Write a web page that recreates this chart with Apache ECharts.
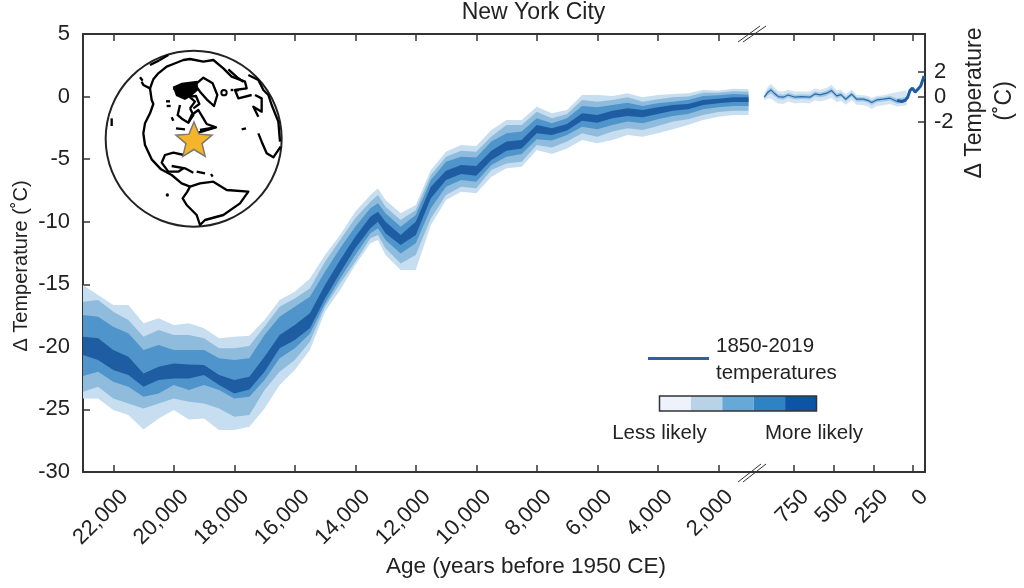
<!DOCTYPE html>
<html>
<head>
<meta charset="utf-8">
<style>html,body{margin:0;padding:0;background:#fff}#c{width:1024px;height:588px}</style>
<script src="https://cdn.jsdelivr.net/npm/echarts@6/dist/echarts.min.js"></script>
</head>
<body>
<div id="c"></div>
<script>
// ---------- DATA ----------
const ages = [23000,22500,22000,21500,21000,20500,20000,19500,19000,18500,18000,17500,17000,16500,16000,15500,15000,14500,14000,13500,13250,13000,12500,12000,11500,11000,10500,10000,9500,9000,8500,8000,7500,7000,6500,6000,5500,5000,4500,4000,3500,3000,2500,2000,1500,1000];
const outerHigh = [-15.06,-15.86,-16.66,-16.66,-18.12,-17.72,-18.26,-18.12,-18.52,-19.32,-19.19,-19.11,-17.86,-16.26,-15.59,-14.53,-12.66,-11.07,-9.20,-7.87,-7.34,-8.27,-9.33,-8.67,-5.87,-4.40,-3.87,-3.95,-2.67,-1.87,-1.87,-0.81,-1.34,-1.07,0.13,0.13,0.05,0.26,-0.06,0.13,0.21,0.26,0.53,0.47,0.63,0.58];
const wideHigh  = [-16.39,-16.26,-17.19,-17.86,-19.19,-18.66,-19.06,-19.06,-19.32,-20.12,-20.12,-19.94,-18.39,-16.79,-16.13,-15.33,-13.20,-11.47,-9.73,-8.40,-7.87,-8.80,-9.87,-9.07,-6.27,-4.80,-4.32,-4.40,-3.20,-2.27,-2.27,-1.21,-1.74,-1.39,-0.27,-0.41,-0.27,-0.06,-0.41,-0.22,-0.06,0.00,0.31,0.31,0.42,0.39];
const innerHigh = [-17.46,-17.59,-18.39,-18.92,-20.26,-19.86,-20.26,-20.26,-20.26,-20.92,-21.05,-20.92,-19.06,-17.59,-16.79,-15.99,-14.00,-12.13,-10.40,-8.93,-8.53,-9.33,-10.40,-9.47,-6.67,-5.20,-4.80,-4.86,-3.60,-2.94,-2.80,-1.74,-2.14,-1.74,-0.75,-0.86,-0.67,-0.49,-0.75,-0.54,-0.41,-0.27,0.05,0.10,0.21,0.15];
const coreHigh  = [-19.19,-19.32,-20.26,-20.79,-22.12,-21.59,-21.32,-21.40,-21.45,-22.25,-22.65,-22.39,-20.79,-19.06,-18.26,-17.32,-15.06,-13.06,-11.20,-9.60,-9.20,-10.00,-11.07,-10.00,-7.20,-5.92,-5.47,-5.55,-4.32,-3.60,-3.47,-2.27,-2.54,-2.19,-1.34,-1.47,-1.13,-0.94,-1.07,-0.86,-0.67,-0.59,-0.27,-0.17,-0.06,-0.06];
const coreLow   = [-20.65,-21.05,-21.85,-22.25,-23.19,-22.65,-22.52,-22.52,-22.25,-23.05,-23.72,-23.40,-21.99,-20.12,-19.46,-18.52,-16.13,-14.08,-12.13,-10.53,-10.00,-10.93,-11.87,-11.07,-8.13,-6.67,-6.19,-6.32,-5.07,-4.32,-4.14,-2.94,-3.07,-2.72,-1.93,-2.09,-1.74,-1.55,-1.66,-1.39,-1.13,-1.02,-0.67,-0.54,-0.43,-0.43];
const innerLow  = [-22.33,-21.99,-22.79,-23.19,-23.99,-23.72,-23.05,-23.45,-23.05,-23.45,-24.12,-23.99,-22.65,-20.92,-20.12,-18.95,-16.53,-14.53,-12.66,-10.93,-10.53,-11.47,-12.53,-11.73,-8.93,-7.20,-6.67,-6.80,-5.47,-4.80,-4.59,-3.42,-3.52,-3.07,-2.41,-2.62,-2.27,-2.00,-2.14,-1.82,-1.55,-1.39,-1.02,-0.86,-0.75,-0.75];
const wideLow   = [-23.59,-23.19,-24.12,-24.52,-24.92,-24.52,-24.12,-24.39,-24.52,-24.92,-25.58,-25.45,-23.45,-21.99,-21.05,-19.59,-16.80,-14.93,-13.20,-11.33,-11.07,-12.13,-13.33,-12.66,-9.73,-7.87,-7.20,-7.33,-5.87,-5.34,-5.20,-3.87,-4.06,-3.60,-2.94,-3.21,-2.80,-2.54,-2.67,-2.35,-2.00,-1.82,-1.47,-1.23,-1.13,-1.13];
const outerLow  = [-24.12,-24.12,-25.05,-25.45,-26.60,-25.72,-25.05,-25.80,-25.72,-26.65,-26.65,-26.38,-24.92,-23.05,-21.85,-20.25,-17.19,-15.46,-13.46,-11.73,-11.46,-12.66,-13.86,-13.86,-10.27,-8.27,-7.60,-7.73,-6.40,-5.73,-5.60,-4.27,-4.59,-4.14,-3.47,-3.74,-3.47,-3.07,-3.21,-2.94,-2.62,-2.27,-1.87,-1.61,-1.47,-1.47];

const recentAges   = [937,916,895,874,849,817,786,744,702,649,618,586,544,513,481,454,424,387,355,313,282,261,229,187,145,103,71,40];
const recentMedian = [-0.05,0.32,0.53,0.27,0,-0.05,0.13,-0.05,0,-0.05,0.21,0.13,0.27,0.48,0.05,0.16,-0.21,0.19,-0.21,-0.21,-0.32,-0.48,-0.27,-0.21,-0.13,-0.37,-0.32,-0.21];
const recentOuterHigh = [0.2,0.75,1.0,0.75,0.45,0.4,0.55,0.4,0.4,0.4,0.65,0.55,0.7,0.95,0.5,0.55,0.2,0.55,0.15,0.1,0.05,-0.1,0.05,0.1,0.25,0.35,0.45,0.5];
const recentOuterLow  = [-0.3,-0.15,-0.15,-0.35,-0.55,-0.6,-0.4,-0.55,-0.5,-0.55,-0.3,-0.4,-0.25,-0.1,-0.45,-0.35,-0.65,-0.3,-0.65,-0.7,-0.8,-1.0,-0.75,-0.7,-0.6,-0.8,-0.75,-0.7];
const recentInnerHigh = [0.08,0.5,0.75,0.48,0.2,0.14,0.31,0.14,0.18,0.14,0.4,0.31,0.46,0.68,0.25,0.34,-0.02,0.37,-0.03,-0.05,-0.14,-0.3,-0.1,-0.04,0.05,-0.15,-0.1,-0.02];
const recentInnerLow  = [-0.18,0.1,0.25,0.05,-0.2,-0.25,-0.07,-0.24,-0.2,-0.24,0.02,-0.08,0.07,0.26,-0.15,-0.03,-0.4,0,-0.4,-0.4,-0.5,-0.68,-0.46,-0.4,-0.32,-0.58,-0.53,-0.4];

const instrumentalAges   = [100,71,50,34,19,4,-13,-23,-48,-69];
const instrumentalValues = [-0.32,-0.40,-0.30,-0.05,0.50,0.67,0.35,0.30,0.85,1.65];

const leftXTicks  = [22000,20000,18000,16000,14000,12000,10000,8000,6000,4000,2000];
const rightXTicks = [750,500,250,0];
const rightYTicks = [2,0,-2];
const likelihoodColors = ['#eef2fb','#b8d2e6','#66a9d7','#2e83c5','#0c55a6'];

const C_OUTER='#c6deef', C_WIDE='#8fbcdc', C_INNER='#4f94ca', C_CORE='#1f5da2';
const AX='#333', TXT='#222', FONT='"Liberation Sans", Arial, sans-serif';

// Polygon band through the axis scales.
function band(xs, lo, hi, color, xIdx, yIdx){
  const rows = xs.map((x,i)=>[x,lo[i],hi[i]]);
  return {
    type:'custom', xAxisIndex:xIdx, yAxisIndex:yIdx, data:rows, clip:false, silent:true,
    encode:{x:0,y:[1,2]}, z:2,
    renderItem(params, api){
      if(params.dataIndex!==0) return null;
      const up = rows.map(r=>api.coord([r[0],r[2]]));
      const dn = rows.map(r=>api.coord([r[0],r[1]])).reverse();
      return {type:'polygon', shape:{points:up.concat(dn)}, style:{fill:color}};
    }
  };
}

// ---------- Inset globe outlines, in a local 3x space ----------
const coast = [
 [[155,125],[160,135],[180,145],[185,180],[190,192],[180,220],[165,250],[160,280],[165,315],[185,358],[213,388],[245,405],[275,430],[300,440]],
 [[180,145],[190,118],[205,100],[230,80],[250,72],[280,60],[300,57],[340,65],[370,60],[400,85],[425,110],[465,125],[470,145],[435,150],[445,175],[485,165]],
 [[180,75],[200,65],[235,45]],
 [[150,112],[158,122]],
 [[320,130],[340,113],[368,130],[382,165],[372,198],[350,178],[330,155],[315,135],[320,130]],
 [[270,195],[263,225],[278,238],[295,248],[310,225],[300,205]],
 [[300,205],[315,185],[298,170],[318,168],[328,192],[310,205]],
 [[295,248],[305,225],[325,210],[340,235],[350,252],[378,262],[345,272],[325,278],[295,320],[282,345]],
 [[282,345],[250,338],[225,345],[215,368],[235,395],[265,395],[280,385]],
 [[245,378],[285,385],[310,398]],[[320,395],[345,400]],[[363,402],[368,410]],
 [[300,440],[330,430],[370,425],[410,450],[475,455],[450,490],[400,525],[345,540],[330,555],[320,525],[290,495],[278,475],[292,455],[300,440]],
 [[475,105],[505,120],[520,150],[535,165],[545,195],[565,245],[570,305]],
 [[495,165],[515,175],[515,215],[490,200],[505,230]],
 [[415,88],[445,115],[460,125]],
 [[505,280],[515,305],[530,340],[550,352],[572,320]],
 [[65,235],[65,258]],[[455,268],[468,265]],[[422,150],[430,150]],[[438,152],[446,150]],
 [[258,265],[285,268]],[[330,270],[375,262]],[[245,232],[250,242]],[[228,184],[240,184]],[[230,198],[242,198]],[[250,145],[258,150]]
];
const arcticMass = [[248,140],[275,128],[322,122],[325,150],[305,168],[285,180],[258,168]];

const globe = {
  type:'group', x:90, y:40, scaleX:1/3, scaleY:1/3, z:10,
  children:[
    {type:'circle', shape:{cx:311,cy:296,r:264}, style:{fill:'#fff',stroke:'#222',lineWidth:6}},
    {type:'polygon', shape:{points:arcticMass}, style:{fill:'#000'}},
    {type:'circle', shape:{cx:402,cy:158,r:8}, style:{fill:'#fff',stroke:'#000',lineWidth:6}},
    {type:'circle', shape:{cx:232,cy:465,r:5}, style:{fill:'#000'}},
    ...coast.map(p=>({type:'polyline', shape:{points:p}, style:{fill:null,stroke:'#000',lineWidth:7,lineJoin:'round'}}))
  ]
};
const starPts = [];
for(let i=0;i<10;i++){
  const r = i%2? 8.5:19, a = -Math.PI/2 + i*Math.PI/5;
  starPts.push([194+r*Math.cos(a), 141+r*Math.sin(a)]);
}
const txt = (x,y,s,o={}) => ({type:'text', x, y, z:11, rotation:o.rotation||0,
  style:{text:s, font:(o.size||20)+'px '+FONT, fill:TXT, align:o.align||'center', verticalAlign:'middle'}});
const slash = (x1,y1,x2,y2)=>({type:'line', z:12, shape:{x1,y1,x2,y2}, style:{stroke:AX,lineWidth:1}});

const cellW = 157/5;
const legendCells = likelihoodColors.map((c,i)=>({type:'rect', z:11,
  shape:{x:659.5+i*cellW,y:396,width:cellW,height:15}, style:{fill:c}}));

const graphics = [
  globe,
  {type:'polygon', z:12, shape:{points:starPts}, style:{fill:'#f5b52a',stroke:'#7a7a72',lineWidth:1.5,lineJoin:'miter'}},
  txt(533.5,13,'New York City',{size:23}),
  txt(526,567,'Age (years before 1950 CE)',{size:22.5}),
  txt(21,266,'Δ Temperature (˚C)',{size:20,rotation:Math.PI/2}),
  txt(975,103,'Δ Temperature',{size:23,rotation:Math.PI/2}),
  txt(1005,101,'(˚C)',{size:23,rotation:Math.PI/2}),
  {type:'line', z:11, shape:{x1:648,y1:358.5,x2:709,y2:358.5}, style:{stroke:'#2a62a4',lineWidth:3}},
  txt(716,346,'1850-2019',{size:20.5,align:'left'}),
  txt(716,373,'temperatures',{size:20.5,align:'left'}),
  ...legendCells,
  {type:'rect', z:12, shape:{x:659.5,y:396,width:157,height:15}, style:{fill:null,stroke:'#333',lineWidth:1.5}},
  txt(659.5,433,'Less likely',{size:20.5}),
  txt(814,433,'More likely',{size:20.5}),
  slash(738,42,760,26), slash(743,42,766,26),
  slash(738,482,761,464), slash(743,482,766,464)
];

const axisLine = {show:true,onZero:false,lineStyle:{color:AX,width:2}};
const tick = vals => ({show:true,inside:true,length:7,customValues:vals,lineStyle:{color:AX,width:1.5}});
const noLabel = {show:false};
const xLabel = vals => ({show:true,rotate:45,margin:33,padding:[0,-16,0,0],fontSize:22,fontFamily:FONT,color:TXT,customValues:vals,
  formatter:v=>Number(v).toLocaleString('en-US')});

const option = {
  animation:false,
  backgroundColor:'#fff',
  grid:[
    {left:83,top:34,width:665.5,height:438,containLabel:false},
    {left:748.5,top:34,width:176.5,height:438,containLabel:false}
  ],
  xAxis:[
    {type:'value',gridIndex:0,inverse:true,min:1000,max:23000,position:'bottom',axisLine,axisTick:tick(leftXTicks),axisLabel:xLabel(leftXTicks),splitLine:{show:false}},
    {type:'value',gridIndex:0,inverse:true,min:1000,max:23000,position:'top',axisLine,axisTick:tick(leftXTicks),axisLabel:noLabel,splitLine:{show:false}},
    {type:'value',gridIndex:1,inverse:true,min:-75,max:1036,position:'bottom',axisLine,axisTick:tick(rightXTicks),axisLabel:xLabel(rightXTicks),splitLine:{show:false}},
    {type:'value',gridIndex:1,inverse:true,min:-75,max:1036,position:'top',axisLine,axisTick:tick(rightXTicks),axisLabel:noLabel,splitLine:{show:false}}
  ],
  yAxis:[
    {type:'value',gridIndex:0,min:-30,max:5,interval:5,position:'left',axisLine,
     axisTick:{show:true,inside:true,length:7,lineStyle:{color:AX,width:1.5}},
     axisLabel:{show:true,margin:13,fontSize:22,fontFamily:FONT,color:TXT},splitLine:{show:false}},
    {type:'value',gridIndex:1,min:-30,max:5,position:'right',axisLine,
     axisTick:{show:true,inside:true,length:7,customValues:rightYTicks,lineStyle:{color:AX,width:1.5}},
     axisLabel:{show:true,margin:9,fontSize:22,fontFamily:FONT,color:TXT,customValues:rightYTicks},splitLine:{show:false}}
  ],
  series:[
    band(ages,outerLow,outerHigh,C_OUTER,0,0),
    band(ages,wideLow,wideHigh,C_WIDE,0,0),
    band(ages,innerLow,innerHigh,C_INNER,0,0),
    band(ages,coreLow,coreHigh,C_CORE,0,0),
    band(recentAges,recentOuterLow,recentOuterHigh,'#d3e5f3',2,1),
    band(recentAges,recentInnerLow,recentInnerHigh,'#a3c8e3',2,1),
    {type:'line',xAxisIndex:2,yAxisIndex:1,data:recentAges.map((a,i)=>[a,recentMedian[i]]),showSymbol:false,symbol:'none',
     lineStyle:{color:'#2a68ad',width:1.2},z:3,silent:true},
    {type:'line',xAxisIndex:2,yAxisIndex:1,data:instrumentalAges.map((a,i)=>[a,instrumentalValues[i]]),showSymbol:false,symbol:'none',
     lineStyle:{color:'#1f5da2',width:3},z:4,silent:true}
  ],
  graphic:{elements:graphics}
};
const chart = echarts.init(document.getElementById('c'),null,{renderer:'canvas'});
chart.setOption(option);
</script>
</body>
</html>
